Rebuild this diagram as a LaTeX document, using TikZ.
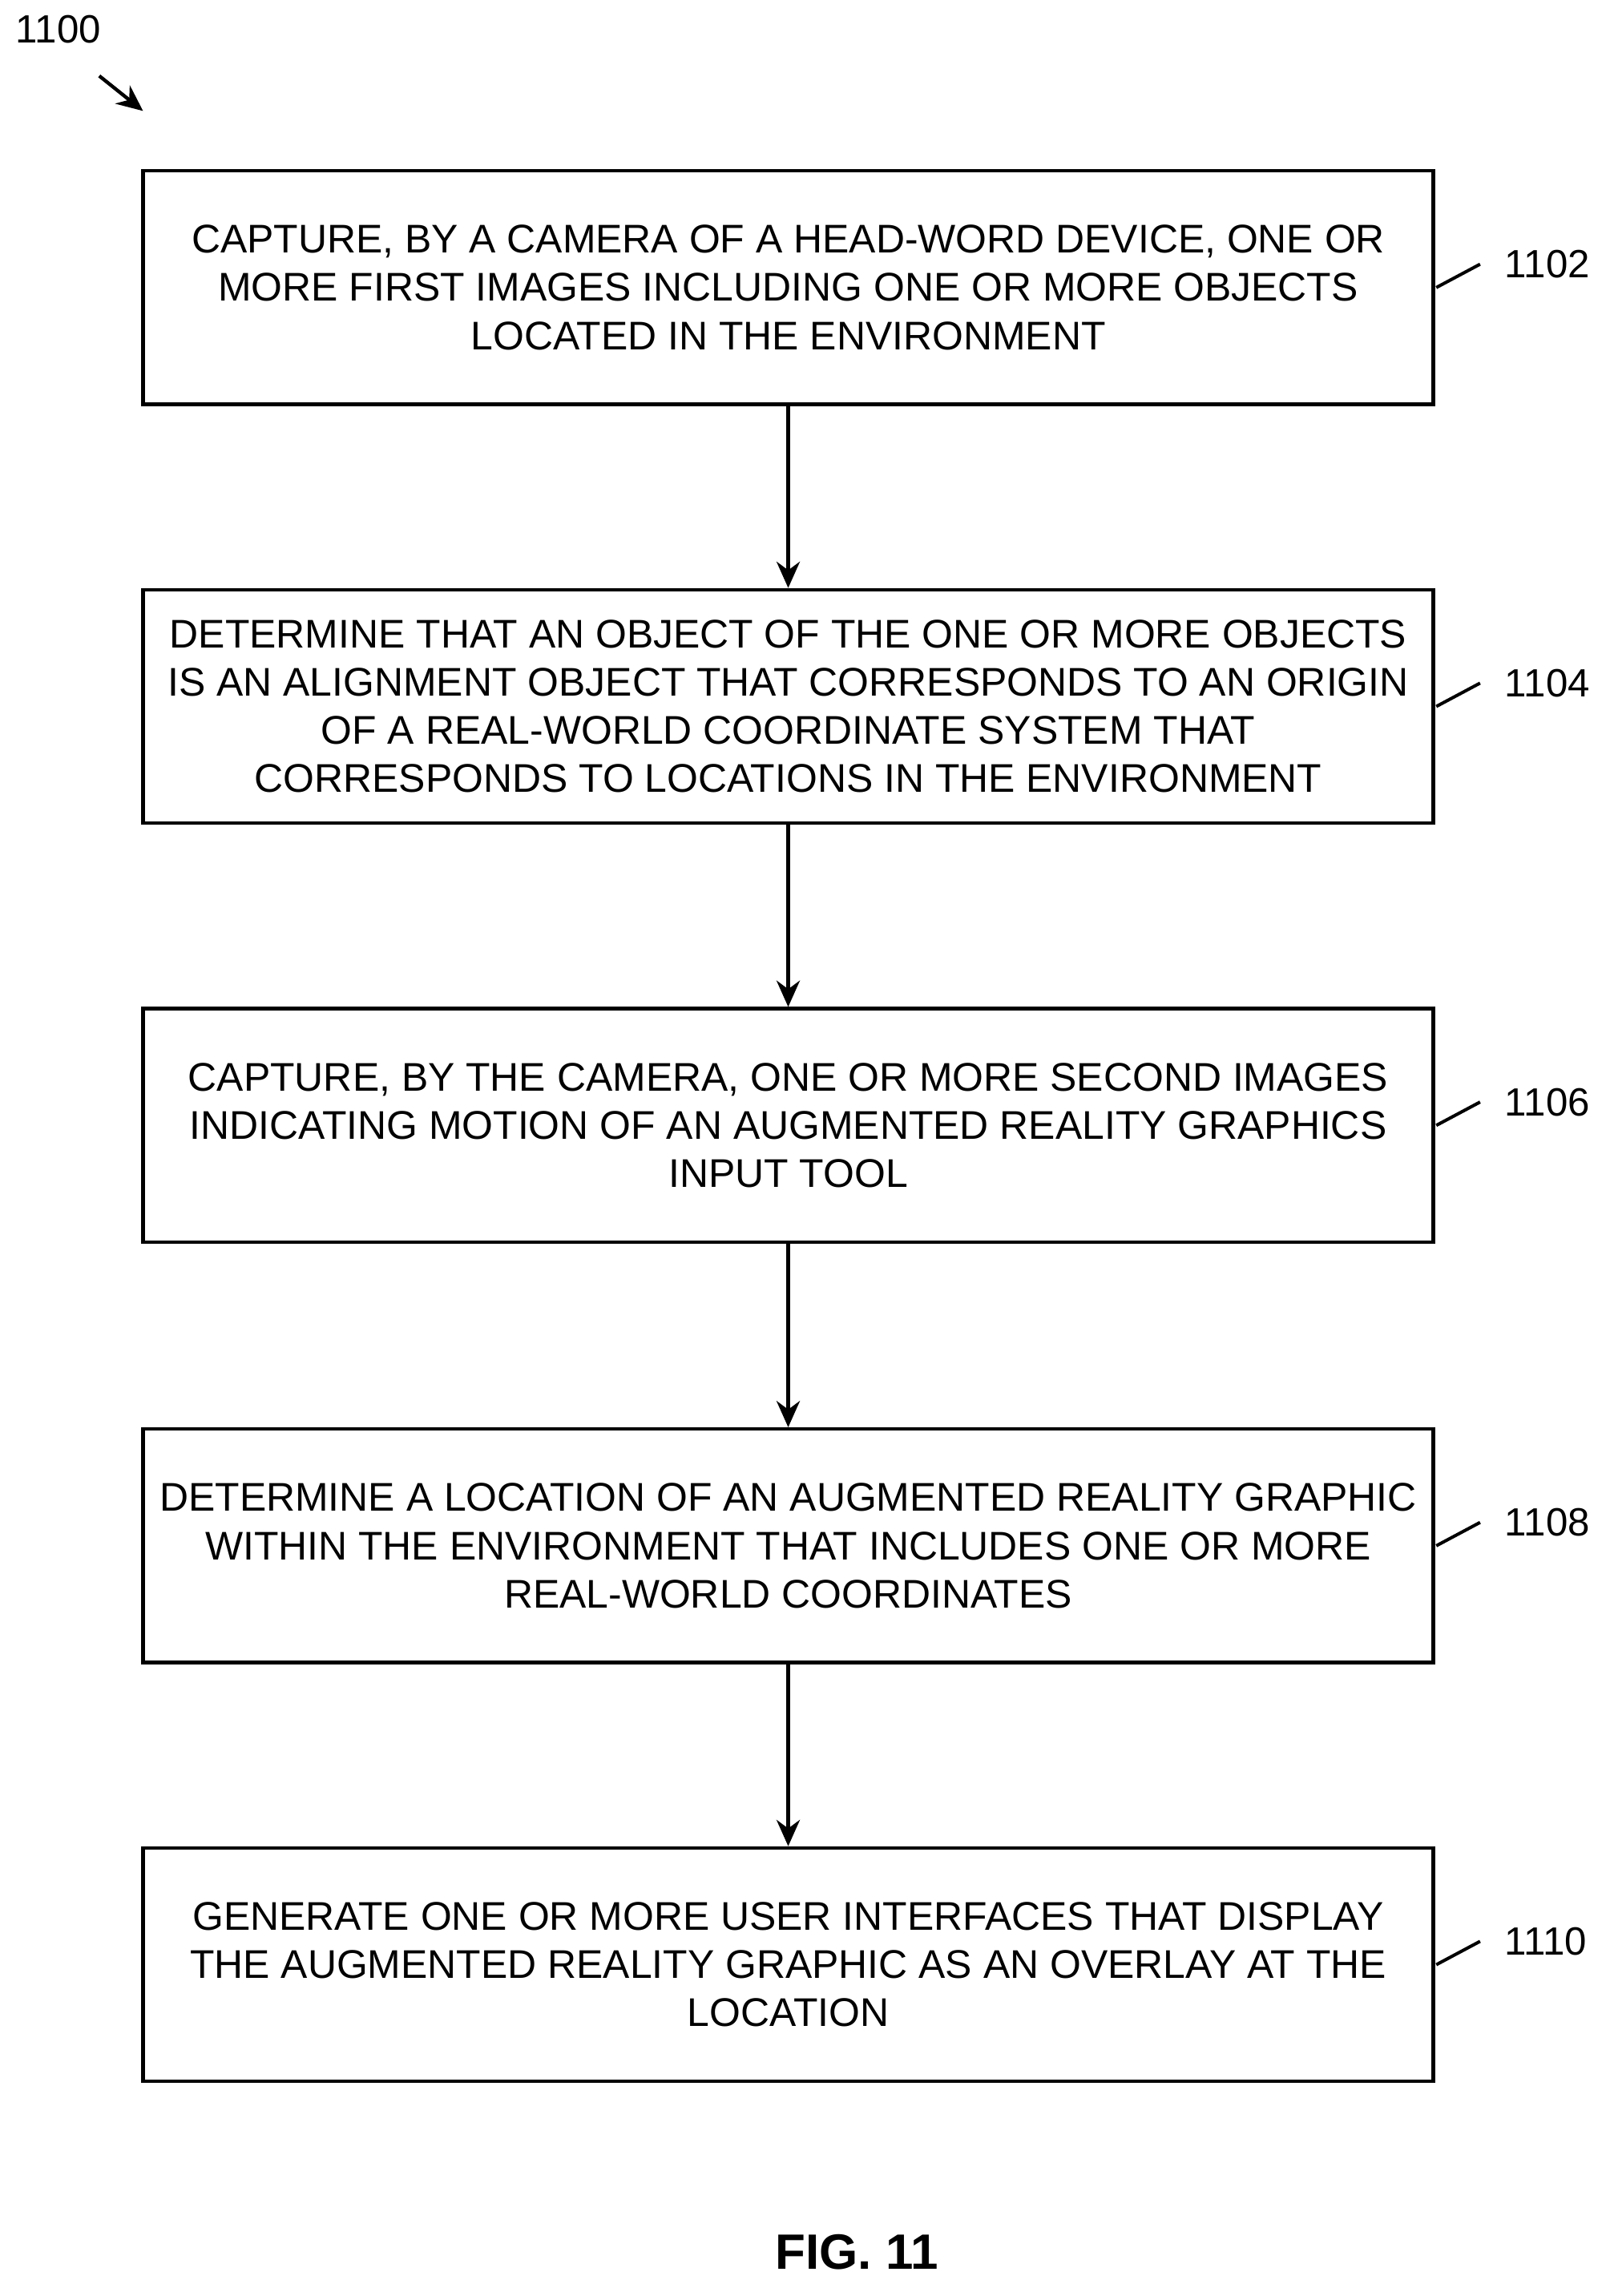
\documentclass[tikz,border=0pt]{standalone}
\usetikzlibrary{arrows.meta}
\usepackage{fontspec}
\setmainfont{Liberation Sans}
\begin{document}
\begin{tikzpicture}[x=0.5pt,y=-0.5pt,
 box/.style={draw,line width=1.2pt,minimum width=442pt,minimum height=80pt,align=center,font=\fontsize{13.7}{16.5}\selectfont,inner sep=0pt},
 arr/.style={-{Stealth[length=9pt,width=8pt]},line width=1.2pt},
 lab/.style={font=\fontsize{13.5}{15}\selectfont}]
\useasboundingbox (0,0) rectangle (1100,1573);
\node[lab] (t) at (40,20) {1100};
\coordinate (ta) at (68,52);
\coordinate (tb) at (98,76);
\draw[arr] (ta) -- (tb);
\node[box] (b1) at (540,197) {CAPTURE, BY A CAMERA OF A HEAD-WORD DEVICE, ONE OR\\MORE FIRST IMAGES INCLUDING ONE OR MORE OBJECTS\\LOCATED IN THE ENVIRONMENT};
\node[box] (b2) at (540,484) {DETERMINE THAT AN OBJECT OF THE ONE OR MORE OBJECTS\\IS AN ALIGNMENT OBJECT THAT CORRESPONDS TO AN ORIGIN\\OF A REAL-WORLD COORDINATE SYSTEM THAT\\CORRESPONDS TO LOCATIONS IN THE ENVIRONMENT};
\node[box] (b3) at (540,771) {CAPTURE, BY THE CAMERA, ONE OR MORE SECOND IMAGES\\INDICATING MOTION OF AN AUGMENTED REALITY GRAPHICS\\INPUT TOOL};
\node[box] (b4) at (540,1059) {DETERMINE A LOCATION OF AN AUGMENTED REALITY GRAPHIC\\WITHIN THE ENVIRONMENT THAT INCLUDES ONE OR MORE\\REAL-WORLD COORDINATES};
\node[box] (b5) at (540,1346) {GENERATE ONE OR MORE USER INTERFACES THAT DISPLAY\\THE AUGMENTED REALITY GRAPHIC AS AN OVERLAY AT THE\\LOCATION};
\foreach \i/\n/\y in {1/1102/181,2/1104/468,3/1106/755,4/1108/1043,5/1110/1330}{
 \node[lab,anchor=west] (l\i) at (1024,\y) {\n};
 \coordinate (p\i) at (984,\y+16);
 \coordinate (q\i) at (1014,\y);
 \draw[line width=1.1pt] (p\i) -- (q\i);
}
\draw[arr] (b1) -- (b2);
\draw[arr] (b2) -- (b3);
\draw[arr] (b3) -- (b4);
\draw[arr] (b4) -- (b5);
\node[font=\bfseries\fontsize{17}{20}\selectfont] (fig) at (587,1543) {FIG. 11};
\end{tikzpicture}
\end{document}
